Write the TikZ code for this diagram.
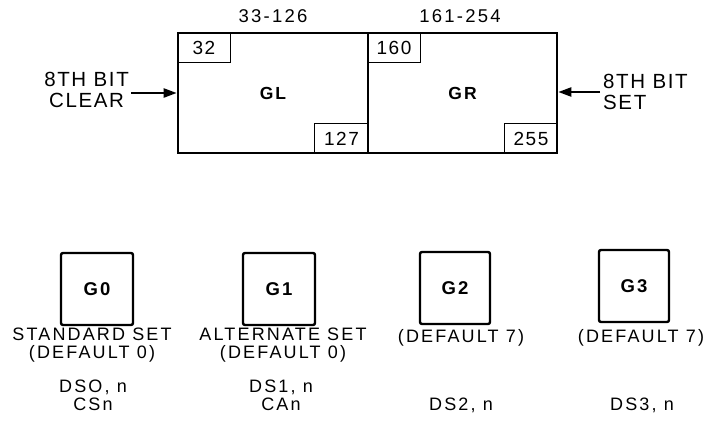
\documentclass[tikz,border=0pt]{standalone}
\usepackage{fontspec}
\setmainfont{Liberation Sans}
\newfontfamily\spc[LetterSpace=12]{Liberation Sans}
\newfontfamily\spcb[LetterSpace=8]{Liberation Sans}
\usetikzlibrary{arrows.meta}
\begin{document}
\begin{tikzpicture}[x=1pt,y=-1pt,
  bigbox/.style={draw,line width=2.6pt,inner sep=0pt,minimum height=120pt},
  numbox/.style={draw,line width=1.6pt,inner sep=0pt,minimum width=53pt,minimum height=30pt,font=\spcb\fontsize{19}{21}\selectfont},
  gbox/.style={draw,line width=2.4pt,rounded corners=2pt,inner sep=0pt,minimum width=72pt,minimum height=72pt,font=\spc\bfseries\fontsize{18.5}{20}\selectfont},
  lbl/.style={font=\spc\fontsize{18}{20}\selectfont,inner sep=0pt,align=center},
  side/.style={font=\spcb\fontsize{20.5}{22}\selectfont,inner sep=0pt},
  arr/.style={line width=2.2pt,-{Triangle[length=13pt,width=9pt]}}]
\useasboundingbox (0,0) rectangle (707,442);
% main boxes
\node[bigbox,minimum width=190pt,font=\spc\bfseries\fontsize{17.5}{18}\selectfont] (GL) at (273,93) {GL};
\node[bigbox,minimum width=189pt,font=\spc\bfseries\fontsize{17.5}{18}\selectfont] (GR) at (462.5,93) {GR};
\node[numbox,anchor=north west] (n32) at (GL.north west) {32};
\node[numbox,anchor=south east,minimum width=54pt] (n127) at (GL.south east) {127};
\node[numbox,anchor=north west] (n160) at (GR.north west) {160};
\node[numbox,anchor=south east] (n255) at (GR.south east) {255};
\node[lbl,font=\spc\fontsize{18.5}{20}\selectfont] (r1) at (273,16) {33-126};
\node[lbl,font=\spc\fontsize{18.5}{20}\selectfont] (r2) at (460,16) {161-254};
% side labels and arrows
\node[side,align=center,anchor=east] (clr) at (129,90) {8TH BIT\\[-1pt]CLEAR};
\node[side,align=left,anchor=west] (set) at (603,92) {8TH BIT\\[-1pt]SET};
\coordinate (a1) at (131,93);
\coordinate (a2) at (600,92);
\draw[arr] (a1) -- (GL.west);
\draw[arr] (a2) -- (a2 -| GR.east);
% G boxes
\node[gbox] (G0) at (97,289) {G0};
\node[gbox] (G1) at (279,289) {G1};
\node[gbox,minimum width=70pt] (G2) at (455,288) {G2};
\node[gbox,minimum width=70pt] (G3) at (634,286) {G3};
% descriptions
\node[lbl] (t0) at (92,345) {STANDARD SET\\[-2pt](DEFAULT 0)};
\node[lbl] (t1) at (283,345) {ALTERNATE SET\\[-2pt](DEFAULT 0)};
\node[lbl] (t2) at (461,338) {(DEFAULT 7)};
\node[lbl] (t3) at (641,338) {(DEFAULT 7)};
\node[lbl] (d0) at (93,395) {DSO, n\\[-2pt]CSn};
\node[lbl] (d1) at (281,395) {DS1, n\\[-2pt]CAn};
\node[lbl] (d2) at (461,405) {DS2, n};
\node[lbl] (d3) at (642,405) {DS3, n};
\end{tikzpicture}
\end{document}
